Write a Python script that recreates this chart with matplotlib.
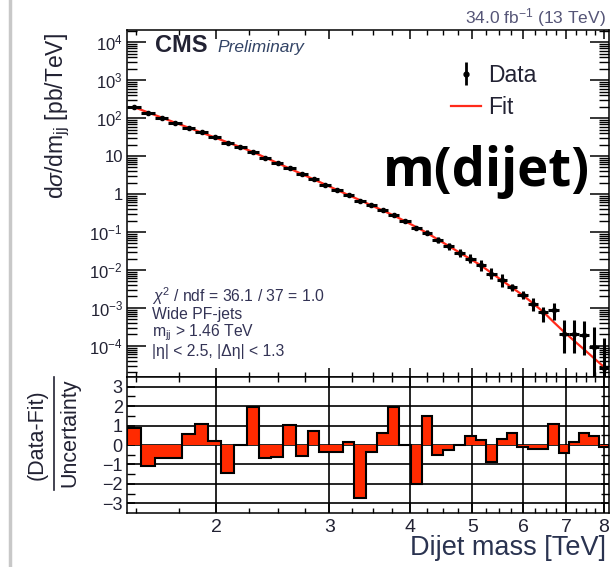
import numpy as np
import matplotlib
matplotlib.use("Agg")
import matplotlib.pyplot as plt
from matplotlib.ticker import FixedLocator, FixedFormatter, NullFormatter, LogLocator
from matplotlib.lines import Line2D

plt.rcParams['font.family'] = ['Liberation Sans', 'DejaVu Sans']
plt.rcParams['mathtext.fontset'] = 'custom'
plt.rcParams['mathtext.rm'] = 'Liberation Sans'
plt.rcParams['mathtext.it'] = 'Liberation Sans:italic'
plt.rcParams['mathtext.bf'] = 'Liberation Sans:bold'

# dijet mass bin edges [TeV]
edges = [1.455, 1.530, 1.607, 1.687, 1.770, 1.856, 1.945, 2.037, 2.132, 2.231,
         2.332, 2.438, 2.546, 2.659, 2.775, 2.895, 3.019, 3.147, 3.279, 3.416,
         3.558, 3.704, 3.854, 4.010, 4.171, 4.337, 4.509, 4.686, 4.869, 5.058,
         5.253, 5.455, 5.663, 5.877, 6.099, 6.328, 6.564, 6.808, 7.060, 7.320,
         7.589, 7.866, 8.152]

# fit value in each bin [pb/TeV]
xsec_fit = [194, 141, 103, 75.7, 55.9, 41.5, 30.9, 22.9, 17.3, 12.8,
            9.14, 6.55, 4.69, 3.38, 2.44, 1.77, 1.28, 0.935, 0.687, 0.501,
            0.368, 0.270, 0.192, 0.135, 0.0942, 0.0631, 0.0426, 0.0287, 0.0195, 0.0132,
            0.00834, 0.00530, 0.00338, 0.00217, 0.00132, 7.85e-4, 4.26e-4, 2.37e-4, 1.38e-4, 8.09e-5,
            4.72e-5, 2.77e-5]

# measured cross section [pb/TeV]
xsec_data = [195, 140, 102, 75.2, 56.3, 42.0, 31.0, 22.6, 17.3, 13.0,
             9.08, 6.51, 4.74, 3.36, 2.46, 1.76, 1.27, 0.937, 0.662, 0.499,
             0.372, 0.278, 0.192, 0.129, 0.0965, 0.0624, 0.0423, 0.0287, 0.0198, 0.0134,
             0.00805, 0.00537, 0.00350, 0.00215, 0.00129, 7.75e-4, 8.85e-4, 2.07e-4, 2.0e-4, 1.9e-4,
             9.4e-5, 2.64e-5]

# relative stat. uncertainty (up / down)
err_up = [0.004, 0.005, 0.006, 0.007, 0.008, 0.009, 0.010, 0.012, 0.014, 0.016,
          0.018, 0.020, 0.024, 0.028, 0.032, 0.037, 0.043, 0.050, 0.058, 0.068,
          0.080, 0.090, 0.110, 0.130, 0.150, 0.180, 0.210, 0.250, 0.300, 0.360,
          0.420, 0.480, 0.20, 0.27, 0.44, 0.35, 0.53, 1.33, 1.33, 1.40,
          2.36, 5.2]
err_dn = [0.004, 0.005, 0.006, 0.007, 0.008, 0.009, 0.010, 0.012, 0.014, 0.016,
          0.018, 0.020, 0.024, 0.028, 0.032, 0.037, 0.043, 0.050, 0.058, 0.068,
          0.080, 0.090, 0.110, 0.130, 0.150, 0.170, 0.190, 0.220, 0.250, 0.280,
          0.300, 0.330, 0.18, 0.22, 0.35, 0.45, 0.45, 0.68, 0.68, 0.70,
          0.84, 0.95]

# (Data-Fit)/Uncertainty
pulls = [0.9, -1.1, -0.65, -0.65, 0.55, 1.1, 0.2, -1.45, 0.02, 1.95,
         -0.65, -0.6, 1.05, -0.55, 0.7, -0.35, -0.35, 0.15, -2.75, -0.35,
         0.6, 1.95, 0.02, -2.0, 1.5, -0.5, -0.25, 0.02, 0.45, 0.25,
         -0.85, 0.3, 0.6, -0.12, -0.2, -0.2, 1.1, -0.4, 0.15, 0.6,
         0.45, -0.1]

ytick_vals = [1e-4, 1e-3, 1e-2, 1e-1, 1, 10, 1e2, 1e3, 1e4]
ytick_labels = [r'$10^{-4}$', r'$10^{-3}$', r'$10^{-2}$', r'$10^{-1}$', '1', '10',
                r'$10^{2}$', r'$10^{3}$', r'$10^{4}$']
xtick_vals = [2, 3, 4, 5, 6, 7, 8]

e = np.array(edges)
centers = 0.5 * (e[:-1] + e[1:])
data = np.array(xsec_data)

W, H = 611, 567
fig = plt.figure(figsize=(W / 100, H / 100), dpi=100)
L, R = 127, 609
ax1 = fig.add_axes([L / W, 1 - 377 / H, (R - L) / W, (377 - 30) / H])
ax2 = fig.add_axes([L / W, 1 - 513 / H, (R - L) / W, (513 - 377) / H], sharex=ax1)

TXT = '#222233'

# ---- upper panel
ax1.set_xscale('log')
ax1.set_yscale('log')
ax1.plot(centers, xsec_fit, color='#ff2a1a', lw=1.6, zorder=2)
ax1.errorbar(centers, data,
             xerr=[centers - e[:-1], e[1:] - centers],
             yerr=[data * np.array(err_dn), data * np.array(err_up)],
             fmt='o', ms=3, color='k', elinewidth=2.2, capsize=0, zorder=3)
ax1.set_xlim(edges[0], edges[-1])
ax1.set_ylim(10 ** -4.82, 10 ** 4.32)
ax1.yaxis.set_major_locator(FixedLocator(ytick_vals))
ax1.yaxis.set_major_formatter(FixedFormatter(ytick_labels))
ax1.yaxis.set_minor_locator(LogLocator(base=10, subs=range(2, 10), numticks=20))
ax1.yaxis.set_minor_formatter(NullFormatter())

minor_x = [v for v in np.arange(1.5, 8.2, 0.25) if v % 1 != 0]
for ax in (ax1, ax2):
    ax.xaxis.set_major_locator(FixedLocator(xtick_vals))
    ax.xaxis.set_minor_locator(FixedLocator(minor_x))
    ax.xaxis.set_minor_formatter(NullFormatter())
    for s in ax.spines.values():
        s.set_linewidth(1.1)

ax1.tick_params(axis='both', which='both', direction='in', top=True, right=True,
                labelbottom=False, colors='k', labelcolor=TXT)
ax1.tick_params(axis='y', which='major', length=14, width=1.1, labelsize=12, pad=3)
ax1.tick_params(axis='y', which='minor', length=7, width=1.0)
ax1.tick_params(axis='x', which='major', length=6.5, width=1.1)
ax1.tick_params(axis='x', which='minor', length=3.5, width=1.0)

ax1.text(0.058, 0.955, 'CMS', transform=ax1.transAxes, fontsize=17,
         fontweight='bold', color=TXT, va='center', ha='left')
ax1.text(0.188, 0.949, 'Preliminary', transform=ax1.transAxes, fontsize=12.5,
         style='italic', color='#334466', va='center', ha='left')

info = [r'$\chi^{2}$ / ndf = 36.1 / 37 = 1.0', 'Wide PF-jets',
        r'm$_{\rm jj}$ > 1.46 TeV', '|η| < 2.5, |Δη| < 1.3']
for i, line in enumerate(info):
    ax1.text(0.052, 0.233 - i * 0.053, line, transform=ax1.transAxes,
             fontsize=11.3, color='#333355', va='center', ha='left')

ax1.text(0.745, 0.59, 'm(dijet)', transform=ax1.transAxes, fontsize=38,
         fontweight='bold', family=['Open Sans', 'DejaVu Sans'],
         color='k', va='center', ha='center')

h_data = ax1.errorbar([np.nan], [np.nan], yerr=[np.nan], fmt='o', ms=3.5,
                      color='k', elinewidth=2, capsize=0)
h_fit = Line2D([], [], color='#ff2a1a', lw=1.6)
ax1.legend([h_data, h_fit], ['Data', 'Fit'], loc='upper left',
           bbox_to_anchor=(0.63, 0.962), frameon=False, fontsize=16.5,
           handlelength=1.3, handletextpad=0.3, labelspacing=0.42,
           labelcolor=TXT)

# ---- lower panel
ax2.set_axisbelow(True)
ax2.grid(True, which='major', color='k', lw=1.2)
ax2.stairs(pulls, edges, baseline=0, fill=True, color='#ff2a00', zorder=2)
ax2.stairs(pulls, edges, baseline=0, color='k', lw=1.5, zorder=3)
ax2.set_ylim(-3.5, 3.5)
ax2.yaxis.set_major_locator(FixedLocator([-3, -2, -1, 0, 1, 2, 3]))
ax2.yaxis.set_minor_locator(FixedLocator([-2.5, -1.5, -0.5, 0.5, 1.5, 2.5]))
ax2.set_xticklabels([str(v) for v in xtick_vals])
ax2.tick_params(axis='both', which='both', direction='in', top=True, right=True,
                colors='k', labelcolor=TXT)
ax2.tick_params(axis='y', which='major', length=6, width=1.1, labelsize=13, pad=3)
ax2.tick_params(axis='y', which='minor', length=6, width=1.0)
ax2.tick_params(axis='x', which='major', length=6.5, width=1.1, labelsize=14, pad=4)
ax2.tick_params(axis='x', which='minor', length=3.5, width=1.0)

# ---- labels
fig.text(58 / W, 1 - 33 / H, r'd$\sigma$/dm$_{\rm jj}$ [pb/TeV]', rotation=90,
         ha='center', va='top', fontsize=16.5, color=TXT)
fig.text(37 / W, 1 - 435 / H, '(Data-Fit)', rotation=90, ha='center',
         va='center', fontsize=15.5, color=TXT)
fig.text(70 / W, 1 - 433 / H, 'Uncertainty', rotation=90, ha='center',
         va='center', fontsize=15.5, color=TXT)
fig.add_artist(Line2D([54 / W, 54 / W], [1 - 377 / H, 1 - 490 / H],
                      color=TXT, lw=1.2))
fig.text(606 / W, 1 - 548 / H, 'Dijet mass [TeV]', ha='right', va='center',
         fontsize=19.5, color='#2a3350')
fig.text(606 / W, 1 - 18 / H, r'34.0 fb$^{-1}$ (13 TeV)', ha='right',
         va='center', fontsize=12.5, color='#555577')

# slide border on the left
fig.add_artist(Line2D([10 / W, 10 / W], [0, 1], color='#c8c8c8', lw=2.5))

fig.savefig('out.png', dpi=100)
